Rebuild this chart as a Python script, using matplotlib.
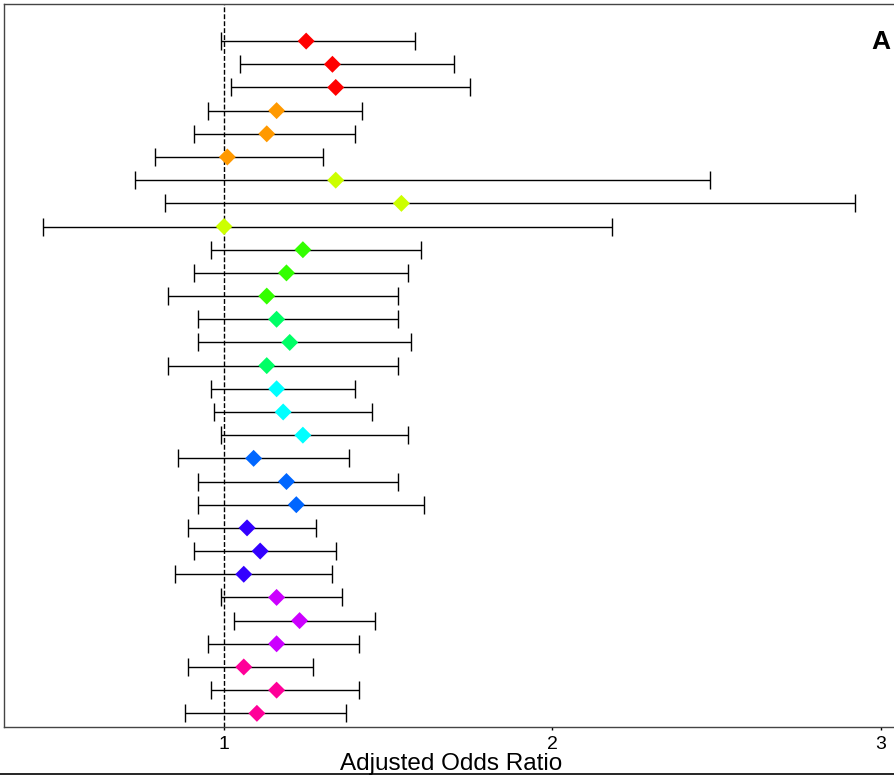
import matplotlib.pyplot as plt
from matplotlib.lines import Line2D

plt.rcParams['font.family'] = ['Liberation Sans', 'DejaVu Sans']

# adjusted odds ratios with 95% CI, listed top to bottom
odds = [1.25, 1.33, 1.34, 1.16, 1.13, 1.01, 1.34, 1.54, 1.00,
        1.24, 1.19, 1.13, 1.16, 1.20, 1.13, 1.16, 1.18, 1.24,
        1.09, 1.19, 1.22, 1.07, 1.11, 1.06, 1.16, 1.23, 1.16,
        1.06, 1.16, 1.10]
lower = [0.99, 1.05, 1.02, 0.95, 0.91, 0.79, 0.73, 0.82, 0.45,
         0.96, 0.91, 0.83, 0.92, 0.92, 0.83, 0.96, 0.97, 0.99,
         0.86, 0.92, 0.92, 0.89, 0.91, 0.85, 0.99, 1.03, 0.95,
         0.89, 0.96, 0.88]
upper = [1.58, 1.70, 1.75, 1.42, 1.40, 1.30, 2.48, 2.92, 2.18,
         1.60, 1.56, 1.53, 1.53, 1.57, 1.53, 1.40, 1.45, 1.56,
         1.38, 1.53, 1.61, 1.28, 1.34, 1.33, 1.36, 1.46, 1.41,
         1.27, 1.41, 1.37]
# one colour per group of three rows (rainbow palette)
group_colors = ['#FF0000', '#FF9900', '#CCFF00', '#33FF00', '#00FF66',
                '#00FFFF', '#0066FF', '#3300FF', '#CC00FF', '#FF0099']
xticks = [1, 2, 3]

n = len(odds)
ypos = [n - i for i in range(n)]
colors = [group_colors[i // 3] for i in range(n)]

fig = plt.figure(figsize=(8.94, 7.75), dpi=100)
ax = fig.add_axes([4 / 894, 1 - 727 / 775, 1.0, (727 - 4) / 775])

ax.errorbar(odds, ypos,
            xerr=[[o - l for o, l in zip(odds, lower)],
                  [u - o for o, u in zip(odds, upper)]],
            fmt='none', ecolor='black', elinewidth=1, capsize=6.5,
            capthick=1, zorder=2)
ax.axvline(1, color='black', lw=1, dashes=(3.5, 1.5), zorder=1)
ax.scatter(odds, ypos, marker='D', s=75, c=colors, edgecolors='none', zorder=3)

ax.set_xlim(0.33, 3.052)
ax.set_ylim(0.41, n + 1.6)
ax.set_xticks(xticks)
ax.set_xticklabels([str(t) for t in xticks])
ax.set_yticks([])
ax.tick_params(axis='x', length=2.5, width=1, pad=4, labelsize=14)
ax.set_xlabel('Adjusted Odds Ratio', fontsize=17.5, labelpad=0)
ax.xaxis.set_label_coords(0.5, -0.036)
ax.xaxis.label.set_va('top')
for side in ['left', 'top', 'bottom']:
    ax.spines[side].set_color('#444444')
    ax.spines[side].set_linewidth(1)
ax.spines['right'].set_visible(False)

ax.text(0.985, 1 - 42 / 775, 'A', transform=fig.transFigure, fontsize=19,
        fontweight='bold', ha='center', va='center')

# rule along the bottom edge of the figure
fig.add_artist(Line2D([0, 1], [0.6 / 775, 0.6 / 775], color='black', lw=1.2,
                      transform=fig.transFigure))

plt.savefig('out.png', dpi=100)
